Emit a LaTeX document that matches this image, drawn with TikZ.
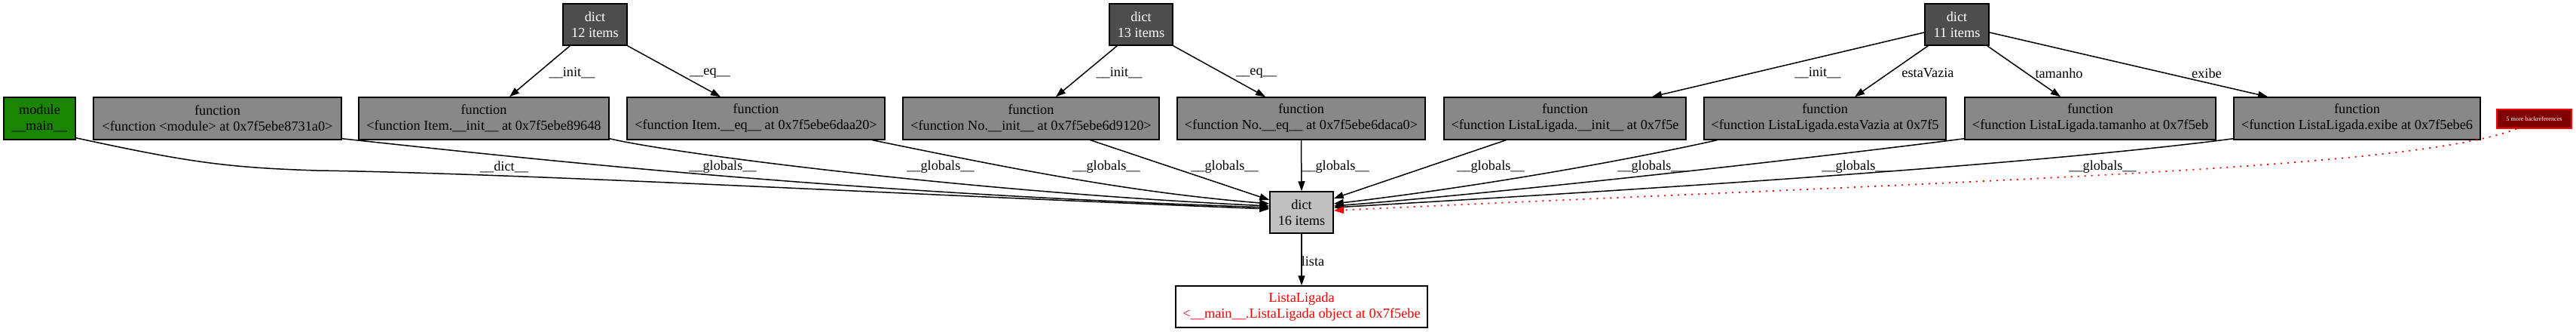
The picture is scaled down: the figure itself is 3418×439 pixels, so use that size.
\documentclass[tikz,border=0pt]{standalone}
\usepackage{fontspec}
\setmainfont{Liberation Serif}
\usetikzlibrary{arrows.meta,calc}
\definecolor{modgreen}{RGB}{26,133,0}
\definecolor{dictdark}{RGB}{77,77,77}
\definecolor{fngray}{RGB}{136,136,136}
\definecolor{dictlight}{RGB}{192,192,192}
\definecolor{backfill}{RGB}{128,0,0}
\begin{document}
\begin{tikzpicture}[x=1pt,y=-1pt,
  box/.style={draw=black, line width=1.5pt, rectangle, inner sep=0pt, align=center,
    font=\fontsize{18.3}{21}\selectfont},
  fnbox/.style={box, fill=fngray, minimum height=56pt},
  dictbox/.style={box, fill=dictdark, text=white, minimum width=85pt, minimum height=55pt},
  e/.style={line width=1.5pt, -{Triangle[length=13pt,width=9pt]}},
  eback/.style={draw=red, line width=1.8pt, dash pattern=on 2pt off 7pt, -{Triangle[length=13pt,width=9pt]}},
  lab/.style={inner sep=0pt, font=\fontsize{18.3}{21}\selectfont},
]
\useasboundingbox[fill=white] (0,0) rectangle (3418,439);

% top dict nodes
\node[dictbox] (d12) at (789.5,32.5) {dict\\12 items};
\node[dictbox, minimum width=84pt] (d13) at (1514,32.5) {dict\\13 items};
\node[dictbox] (d11) at (2596.5,32.5) {dict\\11 items};

% middle row
\node[box, fill=modgreen, minimum width=95pt, minimum height=56pt] (mod) at (52.5,157) {module\\\_\_main\_\_};
\node[fnbox, minimum width=329pt] (f0) at (288.5,157) {function\\<function <module> at 0x7f5ebe8731a0>};
\node[fnbox, minimum width=332pt] (f1) at (642,157) {function\\<function Item.\_\_init\_\_ at 0x7f5ebe89648};
\node[fnbox, minimum width=342pt] (f2) at (1003,157) {function\\<function Item.\_\_eq\_\_ at 0x7f5ebe6daa20>};
\node[fnbox, minimum width=340pt] (f3) at (1368,157) {function\\<function No.\_\_init\_\_ at 0x7f5ebe6d9120>};
\node[fnbox, minimum width=329pt] (f4) at (1726.5,157) {function\\<function No.\_\_eq\_\_ at 0x7f5ebe6daca0>};
\node[fnbox, minimum width=321pt] (f5) at (2076.5,157) {function\\<function ListaLigada.\_\_init\_\_ at 0x7f5e};
\node[fnbox, minimum width=321pt] (f6) at (2421.5,157) {function\\<function ListaLigada.estaVazia at 0x7f5};
\node[fnbox, minimum width=333pt] (f7) at (2773.5,157) {function\\<function ListaLigada.tamanho at 0x7f5eb};
\node[fnbox, minimum width=327pt] (f8) at (3127.5,157) {function\\<function ListaLigada.exibe at 0x7f5ebe6};
\node[draw=red, line width=1.5pt, fill=backfill, text=white, inner sep=0pt,
  minimum width=99pt, minimum height=25pt, font=\fontsize{8.2}{9}\selectfont] (bk) at (3362.5,157.5) {5 more backreferences};

% bottom
\node[box, fill=dictlight, minimum width=84pt, minimum height=55pt] (d16) at (1727,281.5) {dict\\16 items};
\node[box, fill=white, text=red, minimum width=334pt, minimum height=55pt] (ll) at (1727,406.5) {ListaLigada\\<\_\_main\_\_.ListaLigada object at 0x7f5ebe};

% top edges
\draw[e] ([xshift=10pt]d12.south west) -- ([xshift=34pt]f1.north) node[lab] at (759,97) {\_\_init\_\_};
\draw[e] (d12.south east) -- ([xshift=-47pt]f2.north) node[lab] at (942,97) {\_\_eq\_\_};
\draw[e] ([xshift=11pt]d13.south west) -- ([xshift=33pt]f3.north) node[lab] at (1485,97) {\_\_init\_\_};
\draw[e] (d13.south east) -- ([xshift=-47.5pt]f4.north) node[lab] at (1667,97) {\_\_eq\_\_};
\draw[e] ([yshift=-10.5pt]d11.west) -- ([xshift=115.5pt]f5.north) node[lab] at (2412,97) {\_\_init\_\_};
\draw[e] ([xshift=5pt]d11.south west) -- ([xshift=39.5pt]f6.north) node[lab] at (2558,97) {estaVazia};
\draw[e] ([xshift=-3pt]d11.south east) -- ([xshift=-39.5pt]f7.north) node[lab] at (2732,97) {tamanho};
\draw[e] ([yshift=-10.5pt]d11.east) -- ([xshift=-118.5pt]f8.north) node[lab] at (2928,97) {exibe};

% edges into d16 from the left
\draw[e] ([yshift=3pt]mod.south east) .. controls (250,215) and (300,222) .. (420,226)
  .. controls (700,230) and (1200,258) .. ([yshift=4.5pt]d16.west)
  node[lab] at (669,221) {\_\_dict\_\_};
\draw[e] ([yshift=2pt]f0.south east) .. controls (700,210) and (1100,255) .. ([yshift=6.5pt]d16.west)
  node[lab] at (959,221) {\_\_globals\_\_};
\draw[e] ([yshift=2pt]f1.south east) .. controls (900,205) and (1300,255) .. ([yshift=8.5pt]d16.west)
  node[lab] at (1248,221) {\_\_globals\_\_};
\draw[e] ([xshift=-17pt]f2.south east) .. controls (1350,225) and (1500,255) .. ([yshift=11.5pt]d16.west)
  node[lab] at (1468,221) {\_\_globals\_\_};
\draw[e] ([xshift=79pt]f3.south) -- ([yshift=16.5pt]d16.west)
  node[lab] at (1625,221) {\_\_globals\_\_};
\draw[e] (f4.south) -- (d16.north) node[lab] at (1772,221) {\_\_globals\_\_};

% edges into d16 from the right
\draw[e] ([xshift=-78.5pt]f5.south) -- ([yshift=18.5pt]d16.east)
  node[lab] at (1978,221) {\_\_globals\_\_};
\draw[e] ([xshift=18pt]f6.south west) .. controls (2100,225) and (1900,255) .. ([yshift=11.5pt]d16.east)
  node[lab] at (2191,221) {\_\_globals\_\_};
\draw[e] ([yshift=2pt]f7.south west) .. controls (2400,210) and (2000,255) .. ([yshift=8.5pt]d16.east)
  node[lab] at (2462,221) {\_\_globals\_\_};
\draw[e] ([yshift=2pt]f8.south west) .. controls (2700,218) and (2200,250) .. ([yshift=6.5pt]d16.east)
  node[lab] at (2790,221) {\_\_globals\_\_};
\draw[eback] ([xshift=-23.5pt]bk.south) .. controls (3200,225) and (2600,240) .. ([yshift=2.5pt]d16.east);

% bottom edge
\draw[e] (d16.south) -- (ll.north) node[lab] at (1742,346) {lista};
\end{tikzpicture}
\end{document}
